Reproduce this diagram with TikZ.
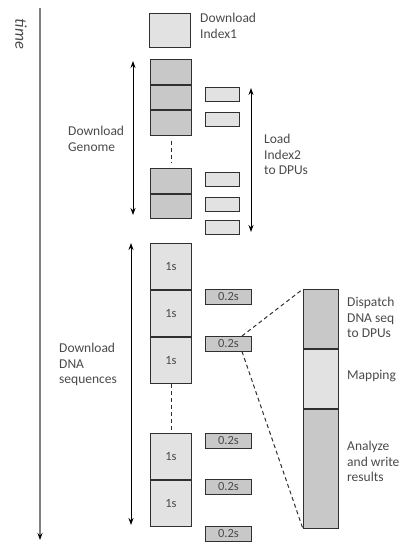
\documentclass[tikz,border=0pt]{standalone}
\usepackage{fontspec}
\setmainfont{Carlito}
\usetikzlibrary{positioning, arrows.meta}

\definecolor{boxlite}{HTML}{E2E2E2}
\definecolor{boxdark}{HTML}{C8C8C8}
\definecolor{ink}{HTML}{303030}
\definecolor{txt}{HTML}{4A4A4A}

\tikzset{
	blk/.style={draw=ink, line width=1pt, inner sep=0pt, minimum width=41pt, text=txt, font=\fontsize{12.5}{14}\selectfont},
	lite/.style={blk, fill=boxlite},
	dark/.style={blk, fill=boxdark},
	lbl/.style={text=txt, align=left, anchor=north west, inner sep=0pt, font=\fontsize{13.5}{15.5}\selectfont},
	span/.style={draw=black, line width=0.9pt, {Stealth[length=7pt,width=5pt]}-{Stealth[length=7pt,width=5pt]}},
	gap/.style={draw=ink, line width=1pt, dash pattern=on 4pt off 3pt},
}

\begin{document}
\begin{tikzpicture}[x=1pt, y=-1pt]
	\useasboundingbox (0,0) rectangle (399,542);

	% time axis
	\coordinate (t0) at (40,8);
	\coordinate (t1) at (40,540);
	\draw[draw=gray, line width=1.1pt, -{Stealth[length=7pt,width=5pt,color=black]}] (t0) -- (t1);
	\node[rotate=-90, text=txt, font=\fontsize{16.5}{18}\selectfont\itshape] (time) at (21,34) {time};

	% index1
	\node[lite, anchor=north west, minimum height=34pt] (idx) at (149,13) {};
	\node[lbl] (idxl) at (200,13) {Download\\Index1};

	% genome
	\node[dark, anchor=north west, minimum height=24.5pt] (g1) at (150,59) {};
	\node[dark, minimum height=24.5pt, below=0pt of g1] (g2) {};
	\node[dark, minimum height=24.5pt, below=0pt of g2] (g3) {};
	\node[dark, anchor=north west, minimum height=24.5pt] (g4) at (150,168) {};
	\node[dark, minimum height=24.5pt, below=0pt of g4] (g5) {};
	\draw[gap] ([yshift=-5pt]g3.south) -- ([yshift=5pt]g4.north);

	\coordinate (ga) at (133,61);
	\coordinate (gb) at (133,215);
	\draw[span] (ga) -- (gb);
	\node[lbl] (gl) at (68,126) {Download\\Genome};

	% index2 to DPUs
	\foreach \n/\y in {1/87, 2/112, 3/172, 4/197, 5/220}
		\node[lite, anchor=north west, minimum width=34pt, minimum height=14pt] (i\n) at (205,\y) {};
	\coordinate (ia) at (251,88);
	\coordinate (ib) at (251,232);
	\draw[span] (ia) -- (ib);
	\node[lbl] (il) at (264,134) {Load\\Index2\\to DPUs};

	% DNA sequences
	\node[lite, anchor=north west, minimum height=46pt] (d1) at (150,243) {1s};
	\node[lite, minimum height=46pt, below=0pt of d1] (d2) {1s};
	\node[lite, minimum height=46pt, below=0pt of d2] (d3) {1s};
	\node[lite, anchor=north west, minimum height=46pt] (d4) at (150,433) {1s};
	\node[lite, minimum height=46pt, below=0pt of d4] (d5) {1s};
	\draw[gap] (d3.south) -- (d4.north);

	\coordinate (da) at (131,243);
	\coordinate (db) at (131,525);
	\draw[span] (da) -- (db);
	\node[lbl] (dl) at (59,343) {Download\\DNA\\sequences};

	\foreach \n/\y in {1/289, 2/336, 3/433, 4/479, 5/526}
		\node[dark, anchor=north west, minimum width=46pt, minimum height=14.5pt] (p\n) at (205,\y) {0.2s};

	% zoom of one batch
	\node[dark, anchor=north west, minimum width=35pt, minimum height=59pt] (z1) at (303,289) {};
	\node[lite, minimum width=35pt, minimum height=59pt, below=0pt of z1] (z2) {};
	\node[dark, minimum width=35pt, minimum height=119pt, below=0pt of z2] (z3) {};
	\draw[gap] ([xshift=-10pt]p2.north east) -- (z1.north west);
	\draw[gap] ([xshift=-10pt]p2.south east) -- (z3.south west);

	\node[lbl] (z1l) at (347,297) {Dispatch\\DNA seq\\to DPUs};
	\node[lbl] (z2l) at (347,370) {Mapping};
	\node[lbl] (z3l) at (347,441) {Analyze\\and write\\results};
\end{tikzpicture}
\end{document}
